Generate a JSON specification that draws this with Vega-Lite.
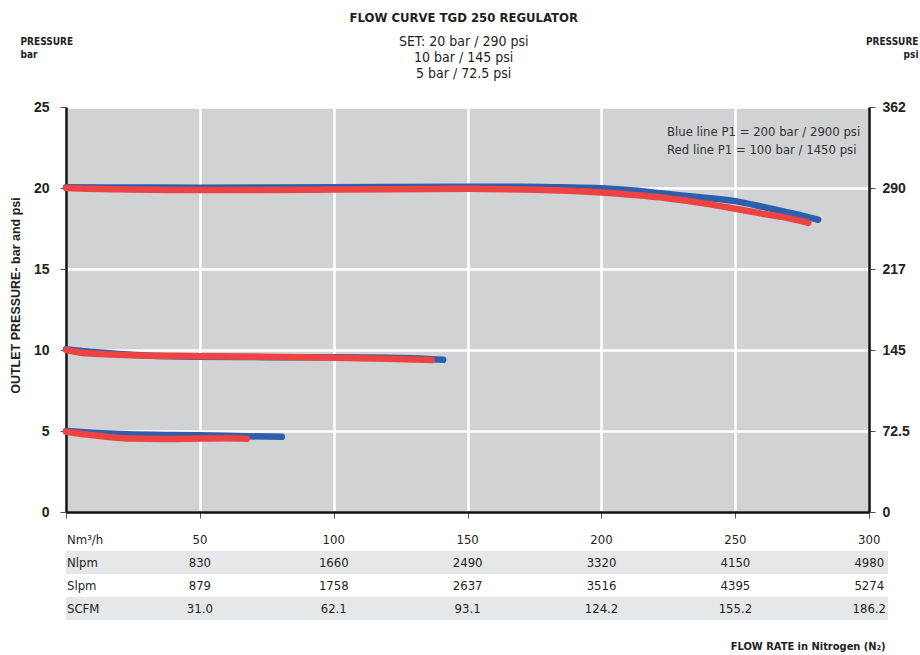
{
  "$schema": "https://vega.github.io/schema/vega-lite/v6.json",
  "background": "white",
  "padding": {"left": 8, "top": 11, "right": 2, "bottom": 4},
  "title": {
    "text": "FLOW CURVE TGD 250 REGULATOR",
    "subtitle": ["SET: 20 bar / 290 psi", "10 bar / 145 psi", "5 bar / 72.5 psi"],
    "anchor": "middle",
    "font": "Liberation Sans Narrow, DejaVu Sans Condensed, Roboto, sans-serif",
    "fontSize": 13,
    "fontWeight": "bold",
    "color": "#231f20",
    "subtitleFont": "Liberation Sans Narrow, DejaVu Sans Condensed, Roboto, sans-serif",
    "subtitleFontSize": 14,
    "subtitleColor": "#231f20",
    "subtitlePadding": 10,
    "subtitleLineHeight": 16,
    "offset": -45
  },
  "resolve": {"scale": {"color": "independent"}, "legend": {"color": "independent"}},
  "datasets": {
    "curves": [
      {"line": "Blue line P1 = 200 bar / 2900 psi", "set": 20, "q": 0, "p": 20.05},
      {"line": "Blue line P1 = 200 bar / 2900 psi", "set": 20, "q": 25, "p": 20.03},
      {"line": "Blue line P1 = 200 bar / 2900 psi", "set": 20, "q": 50, "p": 20.02},
      {"line": "Blue line P1 = 200 bar / 2900 psi", "set": 20, "q": 100, "p": 20.04},
      {"line": "Blue line P1 = 200 bar / 2900 psi", "set": 20, "q": 150, "p": 20.08},
      {"line": "Blue line P1 = 200 bar / 2900 psi", "set": 20, "q": 170, "p": 20.08},
      {"line": "Blue line P1 = 200 bar / 2900 psi", "set": 20, "q": 185, "p": 20.04},
      {"line": "Blue line P1 = 200 bar / 2900 psi", "set": 20, "q": 200, "p": 19.98},
      {"line": "Blue line P1 = 200 bar / 2900 psi", "set": 20, "q": 212, "p": 19.85},
      {"line": "Blue line P1 = 200 bar / 2900 psi", "set": 20, "q": 224, "p": 19.64},
      {"line": "Blue line P1 = 200 bar / 2900 psi", "set": 20, "q": 237, "p": 19.43},
      {"line": "Blue line P1 = 200 bar / 2900 psi", "set": 20, "q": 250, "p": 19.19},
      {"line": "Blue line P1 = 200 bar / 2900 psi", "set": 20, "q": 260, "p": 18.85},
      {"line": "Blue line P1 = 200 bar / 2900 psi", "set": 20, "q": 268, "p": 18.55},
      {"line": "Blue line P1 = 200 bar / 2900 psi", "set": 20, "q": 275, "p": 18.3},
      {"line": "Blue line P1 = 200 bar / 2900 psi", "set": 20, "q": 281, "p": 18.04},
      {"line": "Blue line P1 = 200 bar / 2900 psi", "set": 10, "q": 0, "p": 10.05},
      {"line": "Blue line P1 = 200 bar / 2900 psi", "set": 10, "q": 5, "p": 9.95},
      {"line": "Blue line P1 = 200 bar / 2900 psi", "set": 10, "q": 10, "p": 9.88},
      {"line": "Blue line P1 = 200 bar / 2900 psi", "set": 10, "q": 20, "p": 9.76},
      {"line": "Blue line P1 = 200 bar / 2900 psi", "set": 10, "q": 30, "p": 9.66},
      {"line": "Blue line P1 = 200 bar / 2900 psi", "set": 10, "q": 50, "p": 9.58},
      {"line": "Blue line P1 = 200 bar / 2900 psi", "set": 10, "q": 75, "p": 9.56},
      {"line": "Blue line P1 = 200 bar / 2900 psi", "set": 10, "q": 100, "p": 9.55},
      {"line": "Blue line P1 = 200 bar / 2900 psi", "set": 10, "q": 120, "p": 9.52},
      {"line": "Blue line P1 = 200 bar / 2900 psi", "set": 10, "q": 135, "p": 9.45},
      {"line": "Blue line P1 = 200 bar / 2900 psi", "set": 10, "q": 140.9, "p": 9.4},
      {"line": "Blue line P1 = 200 bar / 2900 psi", "set": 5, "q": 0, "p": 5.0},
      {"line": "Blue line P1 = 200 bar / 2900 psi", "set": 5, "q": 10, "p": 4.9},
      {"line": "Blue line P1 = 200 bar / 2900 psi", "set": 5, "q": 20, "p": 4.82},
      {"line": "Blue line P1 = 200 bar / 2900 psi", "set": 5, "q": 40, "p": 4.76},
      {"line": "Blue line P1 = 200 bar / 2900 psi", "set": 5, "q": 60, "p": 4.7},
      {"line": "Blue line P1 = 200 bar / 2900 psi", "set": 5, "q": 80.6, "p": 4.64},
      {"line": "Red line P1 = 100 bar / 1450 psi", "set": 20, "q": 0, "p": 20.0},
      {"line": "Red line P1 = 100 bar / 1450 psi", "set": 20, "q": 5, "p": 19.97},
      {"line": "Red line P1 = 100 bar / 1450 psi", "set": 20, "q": 20, "p": 19.92},
      {"line": "Red line P1 = 100 bar / 1450 psi", "set": 20, "q": 47, "p": 19.87},
      {"line": "Red line P1 = 100 bar / 1450 psi", "set": 20, "q": 100, "p": 19.9},
      {"line": "Red line P1 = 100 bar / 1450 psi", "set": 20, "q": 150, "p": 19.95},
      {"line": "Red line P1 = 100 bar / 1450 psi", "set": 20, "q": 165, "p": 19.93},
      {"line": "Red line P1 = 100 bar / 1450 psi", "set": 20, "q": 185, "p": 19.84},
      {"line": "Red line P1 = 100 bar / 1450 psi", "set": 20, "q": 200, "p": 19.72},
      {"line": "Red line P1 = 100 bar / 1450 psi", "set": 20, "q": 212, "p": 19.57},
      {"line": "Red line P1 = 100 bar / 1450 psi", "set": 20, "q": 224, "p": 19.38},
      {"line": "Red line P1 = 100 bar / 1450 psi", "set": 20, "q": 237, "p": 19.08},
      {"line": "Red line P1 = 100 bar / 1450 psi", "set": 20, "q": 250, "p": 18.72},
      {"line": "Red line P1 = 100 bar / 1450 psi", "set": 20, "q": 260, "p": 18.42},
      {"line": "Red line P1 = 100 bar / 1450 psi", "set": 20, "q": 268, "p": 18.2},
      {"line": "Red line P1 = 100 bar / 1450 psi", "set": 20, "q": 277.3, "p": 17.85},
      {"line": "Red line P1 = 100 bar / 1450 psi", "set": 10, "q": 0, "p": 10.0},
      {"line": "Red line P1 = 100 bar / 1450 psi", "set": 10, "q": 5, "p": 9.85},
      {"line": "Red line P1 = 100 bar / 1450 psi", "set": 10, "q": 12.7, "p": 9.75},
      {"line": "Red line P1 = 100 bar / 1450 psi", "set": 10, "q": 25, "p": 9.68},
      {"line": "Red line P1 = 100 bar / 1450 psi", "set": 10, "q": 50, "p": 9.62},
      {"line": "Red line P1 = 100 bar / 1450 psi", "set": 10, "q": 87, "p": 9.55},
      {"line": "Red line P1 = 100 bar / 1450 psi", "set": 10, "q": 100, "p": 9.52},
      {"line": "Red line P1 = 100 bar / 1450 psi", "set": 10, "q": 120, "p": 9.46},
      {"line": "Red line P1 = 100 bar / 1450 psi", "set": 10, "q": 136.6, "p": 9.38},
      {"line": "Red line P1 = 100 bar / 1450 psi", "set": 5, "q": 0, "p": 4.96},
      {"line": "Red line P1 = 100 bar / 1450 psi", "set": 5, "q": 8, "p": 4.78},
      {"line": "Red line P1 = 100 bar / 1450 psi", "set": 5, "q": 15, "p": 4.65},
      {"line": "Red line P1 = 100 bar / 1450 psi", "set": 5, "q": 25, "p": 4.53},
      {"line": "Red line P1 = 100 bar / 1450 psi", "set": 5, "q": 35, "p": 4.5},
      {"line": "Red line P1 = 100 bar / 1450 psi", "set": 5, "q": 50, "p": 4.53},
      {"line": "Red line P1 = 100 bar / 1450 psi", "set": 5, "q": 60, "p": 4.55},
      {"line": "Red line P1 = 100 bar / 1450 psi", "set": 5, "q": 67.5, "p": 4.52}
    ],
    "rows": [
      {"row": "Nm³/h", "shade": false},
      {"row": "Nlpm", "shade": true},
      {"row": "Slpm", "shade": false},
      {"row": "SCFM", "shade": true}
    ],
    "table": [
      {"row": "Nm³/h", "q": 50, "v": "50"},
      {"row": "Nm³/h", "q": 100, "v": "100"},
      {"row": "Nm³/h", "q": 150, "v": "150"},
      {"row": "Nm³/h", "q": 200, "v": "200"},
      {"row": "Nm³/h", "q": 250, "v": "250"},
      {"row": "Nm³/h", "q": 300, "v": "300"},
      {"row": "Nlpm", "q": 50, "v": "830"},
      {"row": "Nlpm", "q": 100, "v": "1660"},
      {"row": "Nlpm", "q": 150, "v": "2490"},
      {"row": "Nlpm", "q": 200, "v": "3320"},
      {"row": "Nlpm", "q": 250, "v": "4150"},
      {"row": "Nlpm", "q": 300, "v": "4980"},
      {"row": "Slpm", "q": 50, "v": "879"},
      {"row": "Slpm", "q": 100, "v": "1758"},
      {"row": "Slpm", "q": 150, "v": "2637"},
      {"row": "Slpm", "q": 200, "v": "3516"},
      {"row": "Slpm", "q": 250, "v": "4395"},
      {"row": "Slpm", "q": 300, "v": "5274"},
      {"row": "SCFM", "q": 50, "v": "31.0"},
      {"row": "SCFM", "q": 100, "v": "62.1"},
      {"row": "SCFM", "q": 150, "v": "93.1"},
      {"row": "SCFM", "q": 200, "v": "124.2"},
      {"row": "SCFM", "q": 250, "v": "155.2"},
      {"row": "SCFM", "q": 300, "v": "186.2"}
    ]
  },
  "spacing": 8,
  "vconcat": [
    {
      "width": 803,
      "height": 405,
      "data": {"name": "curves"},
      "view": {"fill": "#d1d2d4", "stroke": "#555", "strokeWidth": 1},
      "resolve": {"scale": {"x": "independent", "y": "independent"}},
      "layer": [
        {
          "transform": [{"filter": {"field": "line", "equal": "Blue line P1 = 200 bar / 2900 psi"}}],
          "mark": {"type": "line", "strokeWidth": 6.5, "strokeCap": "round", "strokeJoin": "round", "interpolate": "monotone"},
          "encoding": {
            "x": {
              "field": "q", "type": "quantitative",
              "scale": {"domain": [0, 300], "nice": false},
              "axis": {
                "orient": "bottom", "values": [0, 50, 100, 150, 200, 250, 300],
                "labels": false, "title": null,
                "grid": true, "gridColor": "white", "gridWidth": 2.5, "gridOpacity": 1,
                "domainColor": "#111", "domainWidth": 2.5,
                "tickSize": 6, "tickColor": "#555", "tickWidth": 1
              }
            },
            "y": {
              "field": "p", "type": "quantitative",
              "scale": {"domain": [0, 25], "nice": false},
              "axis": {
                "orient": "left", "values": [0, 5, 10, 15, 20, 25],
                "grid": true, "gridColor": "white", "gridWidth": 2.5, "gridOpacity": 1,
                "domainColor": "#111", "domainWidth": 2.5,
                "tickSize": 6, "tickColor": "#555", "tickWidth": 1,
                "labelFont": "Liberation Sans", "labelFontWeight": "bold", "labelFontSize": 14,
                "labelColor": "#222", "labelPadding": 11,
                "title": "OUTLET PRESSURE- bar and psi",
                "titleFont": "Liberation Sans", "titleFontSize": 12.5, "titleFontWeight": "bold",
                "titleColor": "#222", "titlePadding": 11, "titleY": 188
              }
            },
            "color": {
              "field": "line", "type": "nominal",
              "scale": {"domain": ["Blue line P1 = 200 bar / 2900 psi", "Red line P1 = 100 bar / 1450 psi"], "range": ["#2d5fae", "#ee4343"]},
              "legend": {
                "orient": "none", "legendX": 588, "legendY": 18, "padding": 0, "title": null,
                "symbolSize": 0, "symbolOpacity": 0, "symbolStrokeWidth": 0,
                "labelFont": "Liberation Sans Narrow, DejaVu Sans Condensed, Roboto, sans-serif", "labelFontSize": 13, "labelColor": "#333",
                "labelLimit": 400, "rowPadding": 4, "labelOffset": 0
              }
            },
            "detail": {"field": "set", "type": "nominal"},
            "order": {"field": "q", "type": "quantitative"}
          }
        },
        {
          "transform": [{"filter": {"field": "line", "equal": "Red line P1 = 100 bar / 1450 psi"}}],
          "mark": {"type": "line", "strokeWidth": 6.5, "strokeCap": "round", "strokeJoin": "round", "interpolate": "monotone"},
          "encoding": {
            "x": {
              "field": "q", "type": "quantitative",
              "scale": {"domain": [0, 300], "nice": false},
              "axis": {
                "orient": "top", "labels": false, "ticks": false, "domain": false, "grid": false,
                "title": ["PRESSURE", "bar"], "titleAnchor": "start", "titleAlign": "left",
                "titleBaseline": "top", "titleX": -46, "titleY": -71,
                "titleFont": "Liberation Sans Narrow, DejaVu Sans Condensed, Roboto, sans-serif", "titleFontSize": 10, "titleFontWeight": "bold",
                "titleColor": "#222", "titleLineHeight": 13
              }
            },
            "y": {
              "field": "p", "type": "quantitative",
              "scale": {"domain": [0, 25], "nice": false},
              "axis": {
                "orient": "right", "values": [0, 5, 10, 15, 20, 25],
                "labelExpr": "datum.value == 25 ? '362' : datum.value == 20 ? '290' : datum.value == 15 ? '217' : datum.value == 10 ? '145' : datum.value == 5 ? '72.5' : '0'",
                "grid": false,
                "domainColor": "#111", "domainWidth": 2.5,
                "tickSize": 6, "tickColor": "#555", "tickWidth": 1,
                "labelFont": "Liberation Sans", "labelFontWeight": "bold", "labelFontSize": 14,
                "labelColor": "#222", "labelPadding": 7,
                "title": ["PRESSURE", "psi"], "titleAngle": 0, "titleAlign": "right",
                "titleBaseline": "top", "titleX": 49, "titleY": -71,
                "titleFont": "Liberation Sans Narrow, DejaVu Sans Condensed, Roboto, sans-serif", "titleFontSize": 10, "titleFontWeight": "bold",
                "titleColor": "#222", "titleLineHeight": 13
              }
            },
            "color": {"field": "line", "type": "nominal"},
            "detail": {"field": "set", "type": "nominal"},
            "order": {"field": "q", "type": "quantitative"}
          }
        }
      ]
    },
    {
      "width": 822,
      "height": 92,
      "view": {"stroke": null},
      "layer": [
        {
          "data": {"name": "rows"},
          "transform": [{"filter": {"field": "shade", "equal": true}}],
          "mark": {"type": "rect", "color": "#e6e7e8"},
          "encoding": {
            "y": {"field": "row", "type": "nominal", "sort": ["Nm³/h", "Nlpm", "Slpm", "SCFM"], "scale": {"paddingInner": 0, "paddingOuter": 0}, "axis": null}
          }
        },
        {
          "data": {"name": "rows"},
          "mark": {"type": "text", "align": "left", "font": "Liberation Sans Narrow, DejaVu Sans Condensed, Roboto, sans-serif", "fontSize": 13, "color": "#231f20", "dx": 1},
          "encoding": {
            "x": {"datum": 0, "type": "quantitative"},
            "y": {"field": "row", "type": "nominal", "sort": ["Nm³/h", "Nlpm", "Slpm", "SCFM"], "axis": null},
            "text": {"field": "row"}
          }
        },
        {
          "data": {"name": "table"},
          "mark": {"type": "text", "align": "center", "font": "Liberation Sans Narrow, DejaVu Sans Condensed, Roboto, sans-serif", "fontSize": 13, "color": "#231f20"},
          "encoding": {
            "x": {
              "field": "q", "type": "quantitative",
              "scale": {"domain": [0, 307], "nice": false},
              "axis": {
                "orient": "bottom", "labels": false, "ticks": false, "domain": false, "grid": false,
                "title": "FLOW RATE in Nitrogen (N₂)", "titleAlign": "right", "titleX": 819,
                "titleFont": "Liberation Sans Narrow, DejaVu Sans Condensed, Roboto, sans-serif", "titleFontSize": 11, "titleFontWeight": "bold",
                "titleColor": "#222", "titlePadding": 20
              }
            },
            "y": {"field": "row", "type": "nominal", "sort": ["Nm³/h", "Nlpm", "Slpm", "SCFM"], "axis": null},
            "text": {"field": "v"}
          }
        }
      ]
    }
  ]
}
